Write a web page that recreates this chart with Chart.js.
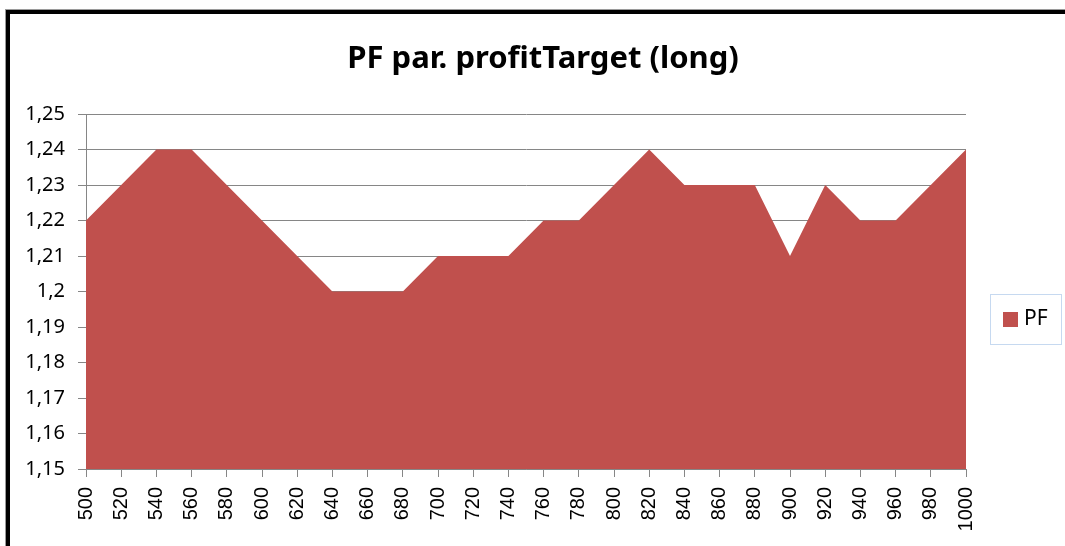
<!DOCTYPE html>
<html>
<head>
<meta charset="utf-8">
<script src="https://cdn.jsdelivr.net/npm/chart.js@4.4.1/dist/chart.umd.min.js"></script>
<style>
    html, body { margin: 0; padding: 0; background: #ffffff; }
    body { width: 1065px; height: 546px; position: relative; overflow: hidden; }
    #wrap { position: absolute; left: 0; top: 0; width: 1065px; height: 546px; }
    #frame {
        position: absolute; left: 6px; top: 10px; width: 1100px; height: 600px;
        border-left: 4px solid #000; border-top: 4px solid #000;
        box-shadow: -1px -1px 0 #9a9a9a;
        pointer-events: none;
    }
</style>
</head>
<body>
<div id="wrap"><canvas id="pfChart" width="1065" height="546"></canvas></div>
<div id="frame"></div>
<script>
// ---- data ----
const chartTitle = 'PF par. profitTarget (long)';
const seriesName = 'PF';
const profitTargets = ['500', '520', '540', '560', '580', '600', '620', '640', '660', '680',
    '700', '720', '740', '760', '780', '800', '820', '840', '860', '880',
    '900', '920', '940', '960', '980', '1000'];
const pfValues = [1.22, 1.23, 1.24, 1.24, 1.23, 1.22, 1.21, 1.20, 1.20, 1.20,
    1.21, 1.21, 1.21, 1.22, 1.22, 1.23, 1.24, 1.23, 1.23, 1.23,
    1.21, 1.23, 1.22, 1.22, 1.23, 1.24];
const yMin = 1.15;
const yMax = 1.25;
const yStep = 0.01;

const areaColor = '#c0504d';
const gridColor = '#868686';

// Excel style number: comma decimal, no trailing zero
function fmtComma(v) {
    return String(Number(v.toFixed(2))).replace('.', ',');
}

// title + boxed legend drawn like the Excel chart
const excelDecor = {
    id: 'excelDecor',
    afterDraw(chart) {
        const ctx = chart.ctx;
        ctx.save();
        ctx.fillStyle = '#000';
        ctx.font = 'bold 31px "Noto Sans", sans-serif';
        ctx.textAlign = 'center';
        ctx.textBaseline = 'alphabetic';
        ctx.fillText(chartTitle, 543, 68);

        // legend box
        ctx.strokeStyle = '#c6d9f0';
        ctx.lineWidth = 1;
        ctx.strokeRect(990.5, 294.5, 71, 50);
        ctx.fillStyle = chart.data.datasets[0].backgroundColor;
        ctx.fillRect(1003, 312, 15, 15);
        ctx.fillStyle = '#000';
        ctx.font = '21px "Noto Sans", sans-serif';
        ctx.textAlign = 'left';
        ctx.textBaseline = 'middle';
        ctx.fillText(chart.data.datasets[0].label, 1024, 319);
        ctx.restore();
    }
};

new Chart(document.getElementById('pfChart'), {
    type: 'line',
    data: {
        labels: profitTargets,
        datasets: [{
            label: seriesName,
            data: pfValues,
            backgroundColor: areaColor,
            borderColor: areaColor,
            borderWidth: 0,
            pointRadius: 0,
            fill: 'start',
            tension: 0
        }]
    },
    options: {
        responsive: false,
        animation: false,
        events: [],
        layout: { padding: { top: 114, right: 99, left: 0, bottom: 0 } },
        plugins: {
            legend: { display: false },
            title: { display: false },
            tooltip: { enabled: false }
        },
        scales: {
            x: {
                offset: false,
                afterFit: (scale) => { scale.height = 77; },
                grid: {
                    drawOnChartArea: false,
                    drawTicks: true,
                    tickLength: 8,
                    color: gridColor
                },
                border: { color: gridColor },
                ticks: {
                    autoSkip: false,
                    minRotation: 90,
                    maxRotation: 90,
                    padding: 10,
                    color: '#000',
                    font: { family: '"Liberation Sans", Arial, sans-serif', size: 20 }
                }
            },
            y: {
                min: yMin,
                max: yMax,
                afterFit: (scale) => { scale.width = 86; },
                grid: {
                    color: gridColor,
                    tickLength: 8
                },
                border: { color: gridColor },
                ticks: {
                    stepSize: yStep,
                    padding: 13,
                    color: '#000',
                    font: { family: '"Noto Sans", sans-serif', size: 20 },
                    callback: (value) => fmtComma(value)
                }
            }
        }
    },
    plugins: [excelDecor]
});
</script>
</body>
</html>
